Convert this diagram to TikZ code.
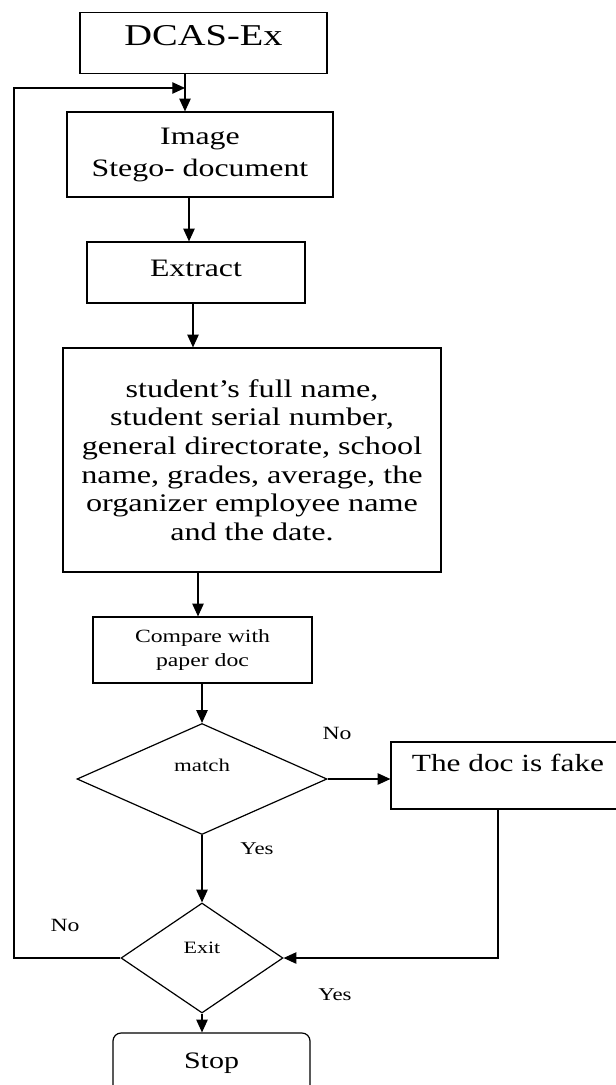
\documentclass[tikz,border=0pt]{standalone}
\usepackage{fontspec}
\setmainfont{Liberation Serif}[FakeStretch=1.27]
\usetikzlibrary{shapes.geometric}
\usetikzlibrary{arrows.meta}
\newcommand{\fsz}[2]{\fontsize{#1}{#2}\selectfont}
\newcommand{\lbyes}{\fsz{13.5}{15}Yes}
\newcommand{\lbno}{\fsz{14}{16}No}

\begin{document}
\begin{tikzpicture}[x=0.75pt,y=-0.75pt,line width=0.9pt,
  box/.style={draw,rectangle,align=center,inner sep=3pt},
  decision/.style={draw,diamond,aspect=2.2,inner sep=0pt},
  lab/.style={inner sep=0pt},
  arr/.style={-{Triangle[length=9.5pt,width=8.5pt]}}]
\useasboundingbox (0,0) rectangle (616,1085);
\clip (0,0) rectangle (616,1085);
% boxes
\node[box,minimum width=185.25pt,minimum height=45.75pt,text height=15.5pt,text depth=12pt,font=\fsz{22.7}{26}] (start) at (203.5,43) {DCAS-Ex};
\node[box,minimum width=199.5pt,minimum height=63.75pt,font=\fsz{18.8}{24}] (img) at (200,154.5) {Image\\Stego- document};
\node[box,minimum width=163.5pt,minimum height=45.75pt,text height=13pt,text depth=7pt,font=\fsz{18.8}{22}] (extract) at (196,272.5) {Extract};
\node[box,minimum width=283.5pt,minimum height=168pt,font=\fsz{19}{21.5}] (info) at (252,460) {student's full name,\\student serial number,\\general directorate, school\\name, grades, average, the\\organizer employee name\\and the date.};
\node[box,minimum width=164.25pt,minimum height=49.5pt,font=\fsz{14}{17.5}] (compare) at (202.5,650) {Compare with\\paper doc};
\node[decision,minimum width=187.5pt,minimum height=83.25pt,text height=9pt,text depth=20pt,font=\fsz{13.5}{15}] (match) at (202,779) {match};
\node[box,minimum width=175.5pt,inner ysep=0pt,text height=21.75pt,text depth=28.5pt,font=\fsz{18.5}{22}] (fake) at (508,775.5) {The doc is fake};
\node[decision,minimum width=121.5pt,minimum height=82.5pt,text height=8.6pt,text depth=15pt,font=\fsz{13}{15}] (exitd) at (202,958) {Exit};
\node[box,rounded corners=6pt,minimum width=147.75pt,minimum height=45.75pt,font=\fsz{17.7}{21}] (stop) at (211.5,1063.5) {Stop};

% labels
\node[lab] (nomatch) at (337,733) {\lbno};
\node[lab] (yesmatch) at (257,849) {\lbyes};
\node[lab] (noexit) at (65,925) {\lbno};
\node[lab] (yesexit) at (335,995) {\lbyes};

% arrows
\coordinate (j1) at (185,88);
\coordinate (lp) at (14,88);
\draw[arr] (start.south -| j1) -- (img.north -| j1);
\draw[arr] ([xshift=-8.25pt]img.south) -- ([xshift=-5.25pt]extract.north);
\draw[arr] ([xshift=-2.25pt]extract.south) -- ([xshift=-44.25pt]info.north);
\draw[arr] ([xshift=-40.5pt]info.south) -- ([xshift=-3.375pt]compare.north);
\draw[arr] (compare.south -| match.north) -- (match.north);
\draw[arr] (match.east) -- (match.east -| fake.west);
\draw[arr] (match.south) -- (exitd.north);
\draw[arr] ([xshift=-7.5pt]fake.south) |- (exitd.east);
\draw[arr] (exitd.south) -- (exitd.south |- stop.north);
% loop back
\draw[arr] (exitd.west) -| (lp) -- (j1);
\end{tikzpicture}
\end{document}
